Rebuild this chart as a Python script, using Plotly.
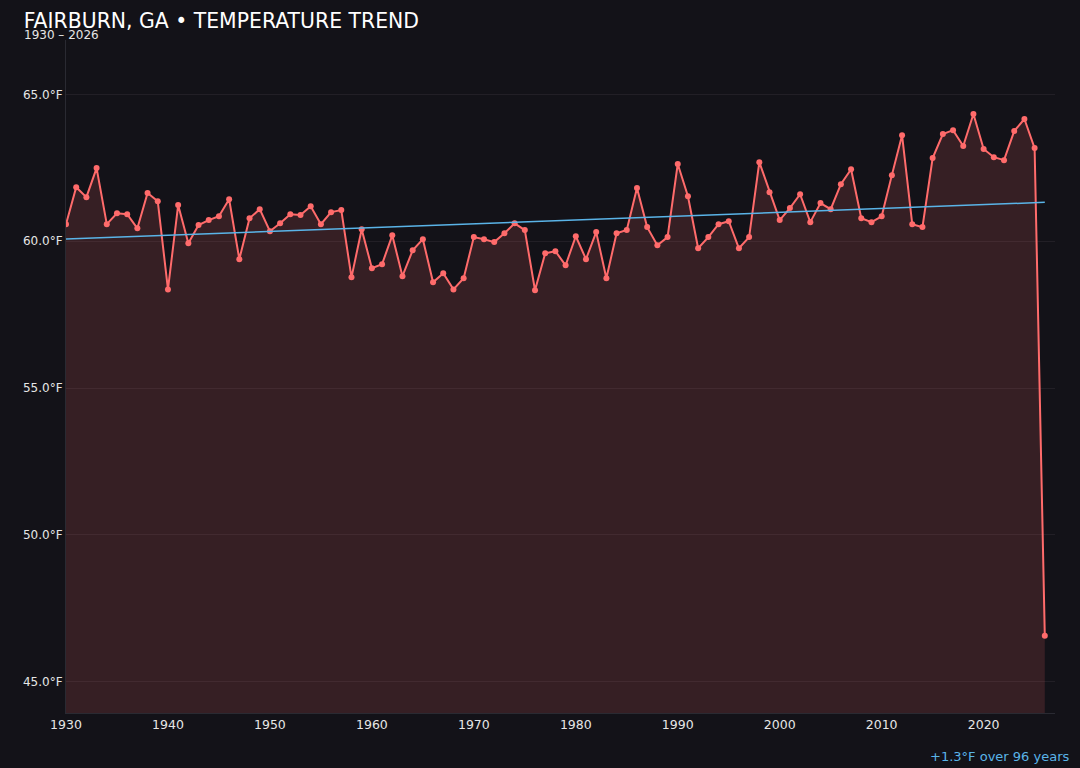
import plotly.graph_objects as go
import numpy as np

years = list(range(1930, 2027))
temps = [
    60.58, 61.84, 61.50, 62.49, 60.58, 60.95, 60.92, 60.44, 61.64, 61.36,
    58.36, 61.23, 59.93, 60.55, 60.72, 60.85, 61.43, 59.39, 60.78, 61.09,
    60.34, 60.61, 60.92, 60.89, 61.19, 60.58, 60.99, 61.06, 58.77, 60.41,
    59.08, 59.22, 60.20, 58.81, 59.69, 60.07, 58.60, 58.91, 58.36, 58.74,
    60.14, 60.07, 59.97, 60.27, 60.61, 60.38, 58.33, 59.59, 59.66, 59.18,
    60.17, 59.39, 60.31, 58.74, 60.27, 60.38, 61.81, 60.48, 59.86, 60.14,
    62.63, 61.53, 59.76, 60.14, 60.58, 60.68, 59.76, 60.14, 62.69, 61.67,
    60.72, 61.13, 61.60, 60.65, 61.30, 61.09, 61.94, 62.45, 60.78, 60.65,
    60.85, 62.25, 63.61, 60.58, 60.48, 62.83, 63.65, 63.78, 63.24, 64.33,
    63.14, 62.86, 62.76, 63.75, 64.16, 63.17, 46.57,
]

x = np.array(years)
y = np.array(temps)
m, c = np.polyfit(x, y, 1)
trend = m * x + c
change = trend[-1] - trend[0]

bg = "#131218"
fig = go.Figure()
fig.add_trace(go.Scatter(
    x=years, y=temps, mode="lines+markers",
    line=dict(color="#ff6b6b", width=2),
    marker=dict(size=6, color="#ff6b6b"),
    fill="tozeroy", fillcolor="rgba(255,107,107,0.15)",
    showlegend=False, hoverinfo="x+y",
))
fig.add_trace(go.Scatter(
    x=years, y=trend, mode="lines",
    line=dict(color="#5ab4e8", width=1.5),
    showlegend=False,
))

fig.update_layout(
    width=1080, height=768,
    paper_bgcolor=bg, plot_bgcolor=bg,
    font=dict(family="DejaVu Sans", color="#e6e6e6", size=12),
    margin=dict(l=66, r=25, t=40, b=55),
    title=dict(text="FAIRBURN, GA • TEMPERATURE TREND", x=0.022, xanchor="left",
               y=0.973, yanchor="middle", font=dict(size=20.4, color="#ffffff")),
    xaxis=dict(range=[1930, 2027], dtick=10, showgrid=False, zeroline=False,
               showline=True, linecolor="#2a2a32", ticks="", tickfont=dict(size=12.5)),
    yaxis=dict(range=[43.94, 66.85], dtick=5, tickformat=".1f", ticksuffix="°F",
               gridcolor="#221f26", zeroline=False, showline=True, linecolor="#2a2a32",
               tickfont=dict(size=12)),
    annotations=[
        dict(text="1930 – 2026", xref="paper", yref="paper", x=-0.044, y=1.008,
             xanchor="left", yanchor="middle", showarrow=False,
             font=dict(size=12, color="#e6e6e6")),
        dict(text="+%.1f°F over %d years" % (change, years[-1] - years[0]),
             xref="paper", yref="paper", x=1.016, y=-0.064,
             xanchor="right", yanchor="middle", showarrow=False,
             font=dict(size=13, color="#5ab4e8")),
    ],
)

fig.write_html("out.html", config={"displayModeBar": False},
               post_script="document.body.style.margin='0';document.body.style.background='%s';" % bg)
